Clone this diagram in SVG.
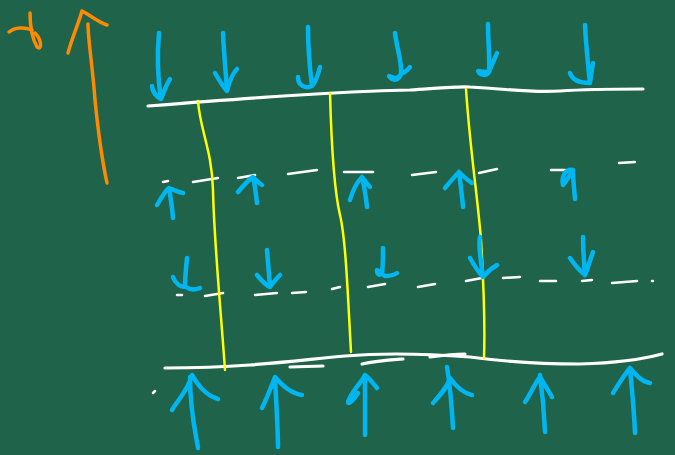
<svg xmlns="http://www.w3.org/2000/svg" width="675" height="455" viewBox="0 0 675 455">
<style>
.o{fill:none;stroke:#ff8a00;stroke-width:3.5;stroke-linecap:round;stroke-linejoin:round}
.w{fill:none;stroke:#ffffff;stroke-width:3.2;stroke-linecap:round;stroke-linejoin:round}
.d{fill:none;stroke:#ffffff;stroke-width:2.5;stroke-linecap:round}
.y{fill:none;stroke:#ffff00;stroke-width:2.5;stroke-linecap:round}
.b{fill:none;stroke:#00b6f0;stroke-width:4.5;stroke-linecap:round;stroke-linejoin:round}
</style>
<rect width="675" height="455" fill="#1f634a"/>
<g id="orange">
<path class="o" d="M9,32 C15,27 25,27 32,30"/>
<path class="o" d="M30,13 C30,25 32,38 37,47 C42,51 42,40 35,33"/>
<path class="o" d="M88,24 C88,40 93,70 95,100 C98,130 102,160 107,183"/>
<path class="o" d="M68,53 C72,38 78,25 82,11 C90,15 98,22 107,25"/>
</g>
<g id="plates">
<path class="w" d="M148,106 C250,98 330,92 410,90 C440,88 460,86 470,87 C510,89 530,93 560,91 C590,89 620,89 643,89"/>
<path class="w" d="M165,368 C200,368 223,367 250,365 C290,362 320,358 345,356 C380,353 430,354 470,357 C500,361 540,364 580,364 C615,363 640,360 662,354"/>
<path class="w" d="M290,367 L323,366"/>
<path class="w" d="M362,364 C375,361 390,360 403,359"/>
<path class="w" d="M430,357 C445,355 455,354 465,354"/>
<path class="d" d="M153,393 L155,391"/>
</g>
<g id="dashes">
<path class="d" d="M163,182 L168,181 M193,182 L218,178 M238,178 L255,175 M288,174 L317,170 M344,172 L373,172 M412,175 L436,172 M479,173 L497,169 M551,170 L565,170 M619,163 L635,162"/>
<path class="d" d="M177,295 L182,295 M205,296 L223,293 M255,295 L277,293 M292,293 L306,292 M332,289 L340,287 M368,287 L385,284 M418,287 L435,284 M466,281 L482,278 M503,278 L520,277 M540,281 L556,281 M582,281 L592,280 M612,283 L637,281 M652,281 L653,281"/>
</g>
<g id="walls">
<path class="y" d="M198,101 C200,130 212,150 213,190 C214,240 220,300 225,370"/>
<path class="y" d="M330,93 C331,130 334,190 340,215 C346,240 348,300 351,352"/>
<path class="y" d="M466,89 C470,150 478,200 481,240 C484,290 485,330 484,358"/>
</g>
<g id="arrows-top">
<path class="b" d="M159,33 C157,55 158,80 161,99 M152,86 C152,92 157,97 161,99 C164,92 166,85 170,79"/>
<path class="b" d="M223,33 C224,55 226,75 227,91 M215,73 C219,80 223,87 227,91 C229,83 232,74 237,69"/>
<path class="b" d="M308,27 C308,50 310,70 312,86 M320,67 C318,75 316,82 312,86 C306,89 298,86 298,77"/>
<path class="b" d="M395,33 C397,50 402,60 401,74 C399,80 393,82 389,76 C393,78 398,80 401,74 C405,72 408,70 410,67"/>
<path class="b" d="M488,24 C488,40 490,60 489,72 C487,76 480,76 478,71 C482,72 487,72 489,72 C492,64 495,58 497,53"/>
<path class="b" d="M585,25 C586,45 588,65 590,83 M570,73 C572,79 577,83 590,83 C591,75 592,70 593,63"/>
</g>
<g id="arrows-up-mid">
<path class="b" d="M173,218 C172,205 170,195 169,188 M157,205 C161,198 165,191 169,188 C174,190 178,192 183,193"/>
<path class="b" d="M257,203 C256,195 255,185 253,177 M238,192 C243,186 248,180 253,177 C256,180 259,183 262,185"/>
<path class="b" d="M367,207 C366,198 364,185 362,177 M350,200 C352,193 356,183 362,177 C365,181 367,184 370,187"/>
<path class="b" d="M463,207 C462,195 460,180 459,172 M445,188 C450,182 455,176 459,172 C463,176 467,180 472,183"/>
<path class="b" d="M575,199 C574,188 573,178 573,170 C566,168 561,176 563,185 C567,180 570,175 573,170"/>
</g>
<g id="arrows-down-mid">
<path class="b" d="M187,258 C186,268 185,278 185,285 M173,277 C175,283 180,287 186,287 C190,290 195,290 200,288"/>
<path class="b" d="M267,250 C268,262 269,275 270,287 M257,275 C261,280 265,285 270,287 C273,283 276,279 280,275"/>
<path class="b" d="M383,248 C383,258 383,266 382,273 C380,276 377,275 377,270 C380,272 382,274 385,276 C390,276 394,275 397,273"/>
<path class="b" d="M480,237 C478,245 481,262 483,277 M470,258 C474,265 478,272 483,277 C487,272 492,268 497,265"/>
<path class="b" d="M583,237 C583,250 584,262 585,275 M570,258 C574,264 579,270 585,275 C588,268 590,260 593,252"/>
</g>
<g id="arrows-bottom">
<path class="b" d="M198,448 C195,430 190,410 190,377 M172,410 C178,400 188,390 192,375 C198,385 205,395 218,399"/>
<path class="b" d="M278,447 C278,430 276,400 275,377 M262,408 C266,400 270,390 275,377 C282,385 290,393 302,395"/>
<path class="b" d="M365,435 C365,415 365,395 365,375 M377,388 C373,383 369,378 365,375 C360,385 352,390 348,402 C348,405 354,400 358,393"/>
<path class="b" d="M453,428 C452,410 450,385 447,367 M433,403 C440,395 447,388 450,378 C455,385 462,393 472,395"/>
<path class="b" d="M545,432 C544,410 542,390 540,375 M525,402 C530,395 535,383 540,377 C545,385 549,392 552,397"/>
<path class="b" d="M635,433 C634,410 632,390 630,368 M613,393 C618,385 624,375 630,368 C636,375 642,382 650,383"/>
</g>
</svg>
